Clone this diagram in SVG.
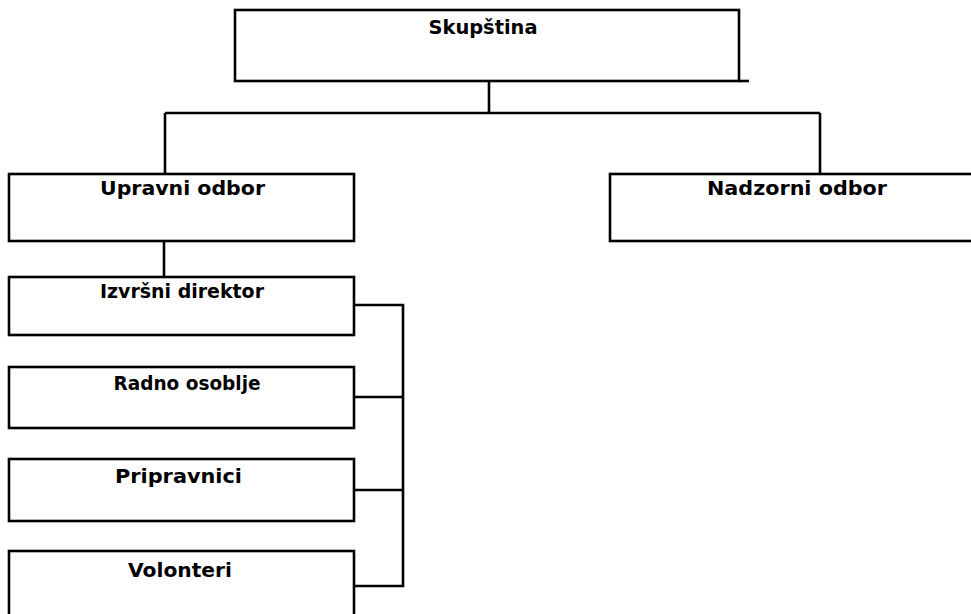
<svg xmlns="http://www.w3.org/2000/svg" width="971" height="614" viewBox="0 0 971 614">
<style>
.box{fill:#fff;stroke:#000;stroke-width:2.6}
.ln{fill:none;stroke:#000;stroke-width:2.6}
.t{font-family:"DejaVu Sans","Liberation Sans",sans-serif;font-weight:bold;font-size:20px;fill:#000;text-anchor:middle}
</style>
<rect width="971" height="614" fill="#fff"/>
<g id="connectors">
<path class="ln" d="M489,81 V113 M165,113 H820 M165,113 V174 M820,113 V174"/>
<path class="ln" d="M164,241 V277"/>
<path class="ln" d="M354,305 H403 V586 H354 M354,397 H403 M354,490 H403"/>
</g>
<g id="skupstina">
<rect class="box" x="235" y="10" width="504" height="71"/>
<path class="ln" d="M739,81 H749"/>
<text class="t" x="483" y="34" textLength="109" lengthAdjust="spacingAndGlyphs">Skupština</text>
</g>
<g id="upravni-odbor">
<rect class="box" x="9" y="174" width="345" height="67"/>
<text class="t" x="182.5" y="195" textLength="165" lengthAdjust="spacingAndGlyphs">Upravni odbor</text>
</g>
<g id="nadzorni-odbor">
<rect class="box" x="610" y="174" width="370" height="67"/>
<text class="t" x="797" y="195" textLength="180" lengthAdjust="spacingAndGlyphs">Nadzorni odbor</text>
</g>
<g id="izvrsni-direktor">
<rect class="box" x="9" y="277" width="345" height="58"/>
<text class="t" x="182" y="298" textLength="164" lengthAdjust="spacingAndGlyphs">Izvršni direktor</text>
</g>
<g id="radno-osoblje">
<rect class="box" x="9" y="367" width="345" height="61"/>
<text class="t" x="187" y="390" textLength="147" lengthAdjust="spacingAndGlyphs">Radno osoblje</text>
</g>
<g id="pripravnici">
<rect class="box" x="9" y="459" width="345" height="62"/>
<text class="t" x="178.5" y="483" textLength="127" lengthAdjust="spacingAndGlyphs">Pripravnici</text>
</g>
<g id="volonteri">
<rect class="box" x="9" y="551" width="345" height="80"/>
<text class="t" x="180" y="577" textLength="104" lengthAdjust="spacingAndGlyphs">Volonteri</text>
</g>
</svg>
